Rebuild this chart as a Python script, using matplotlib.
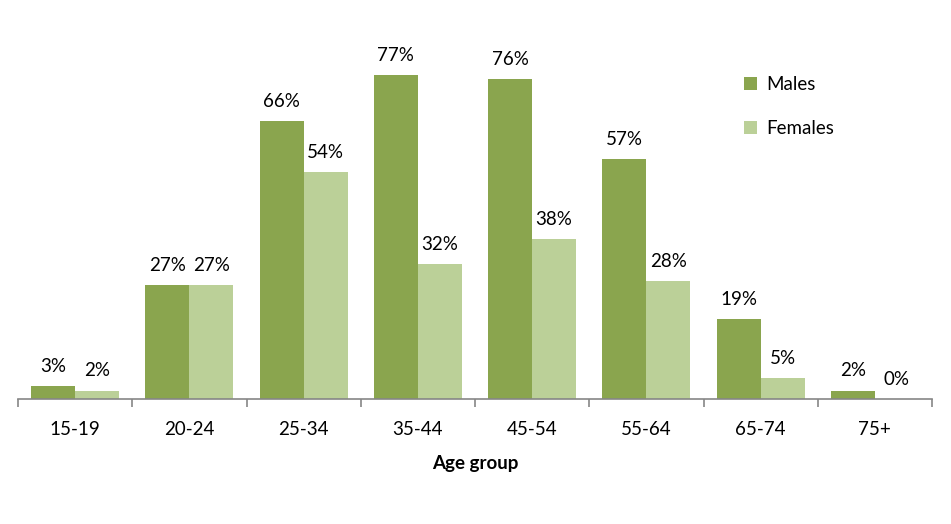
import matplotlib
matplotlib.use("Agg")
import matplotlib.pyplot as plt
import numpy as np

categories = ["15-19", "20-24", "25-34", "35-44", "45-54", "55-64", "65-74", "75+"]
males = [3, 27, 66, 77, 76, 57, 19, 2]
females = [2, 27, 54, 32, 38, 28, 5, 0]

plt.rcParams['font.family'] = ['Lato', 'DejaVu Sans']

W, H = 951, 524
fig = plt.figure(figsize=(W/100, H/100), dpi=100)
left, right, bottom, top = 18, 932, 399, 30
ax = fig.add_axes([left/W, 1-bottom/H, (right-left)/W, (bottom-top)/H])

c_m = '#8AA54E'
c_f = '#BBD098'
fs = 13.5
x = np.arange(len(categories))
bw = 0.385
ax.bar(x - bw/2, males, bw, color=c_m, label='Males')
ax.bar(x + bw/2, females, bw, color=c_f, label='Females')

for xi, v in zip(x, males):
    ax.annotate(f"{v}%", (xi - bw/2, v), xytext=(0, 8), textcoords='offset points',
                ha='center', va='bottom', fontsize=fs)
for xi, v in zip(x, females):
    ax.annotate(f"{v}%", (xi + bw/2, v), xytext=(0, 8), textcoords='offset points',
                ha='center', va='bottom', fontsize=fs)

ax.set_xlim(-0.5, len(categories) - 0.5)
ax.set_ylim(0, (bottom - top) / 4.21)
ax.set_yticks([])
for s in ['top', 'right', 'left']:
    ax.spines[s].set_visible(False)
ax.spines['bottom'].set_color('#868686')
ax.spines['bottom'].set_linewidth(1.2)

ax.set_xticks(np.arange(-0.5, len(categories), 1.0), minor=False)
ax.set_xticklabels([])
ax.tick_params(axis='x', which='major', length=6, color='#868686', width=1.2, direction='out')
ax.set_xticks(x, minor=True)
ax.set_xticklabels(categories, minor=True, fontsize=fs)
ax.tick_params(axis='x', which='minor', length=0, pad=16)

ax.set_xlabel("Age group", fontsize=fs, fontweight='bold', labelpad=12)

ax.legend(loc='upper left', bbox_to_anchor=(0.776, 0.92), frameon=False,
          fontsize=fs, handlelength=0.7, handleheight=0.7,
          labelspacing=1.4, handletextpad=0.5)

fig.savefig("out.png", dpi=100)
